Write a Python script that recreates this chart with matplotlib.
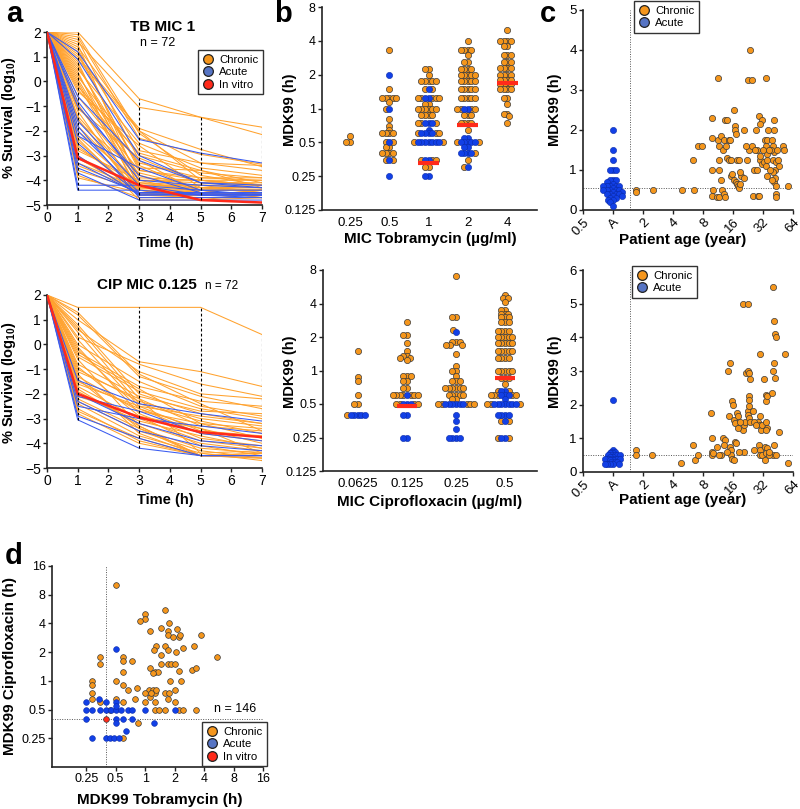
import numpy as np
import matplotlib
matplotlib.use('Agg')
import matplotlib.pyplot as plt
from matplotlib.lines import Line2D
from matplotlib.ticker import NullLocator

plt.rcParams['font.family'] = 'Liberation Sans'
plt.rcParams['mathtext.fontset'] = 'custom'
plt.rcParams['mathtext.rm'] = 'Liberation Sans'
plt.rcParams['mathtext.bf'] = 'Liberation Sans:bold'

ORANGE = '#F5961C'
BLUE = '#1240E6'
RED = '#FF2A1A'
LINE_ORANGE = '#FFA22E'
LINE_BLUE = '#3A5BF0'
LEG_BLUE = '#5674C4'

# ---------------- panel a: time-kill curves (log10 % survival) ----------------
times = [0, 1, 3, 5, 7]
start_survival = 2.0

# values at t = 1, 3, 5, 7 h
tb_chronic = [
    [2.0, -0.7, -1.45, -1.85], [1.6, -1.05, -1.45, -2.15], [1.0, -1.9, -2.75, -3.45],
    [0.9, -2.0, -3.3, -3.4], [1.8, -2.3, -2.95, -3.35], [0.5, -2.5, -3.5, -3.8],
    [1.3, -2.8, -3.3, -3.6], [0.2, -3.0, -3.7, -3.9], [-0.3, -3.3, -3.9, -4.0],
    [1.1, -3.5, -3.6, -4.1], [-0.6, -3.6, -4.0, -4.2], [0.7, -3.9, -4.0, -4.0],
    [-1.0, -4.0, -4.1, -4.1], [1.5, -4.1, -4.2, -4.3], [-1.4, -4.2, -4.2, -4.2],
    [0.0, -4.2, -4.3, -4.4], [-1.8, -4.3, -4.4, -4.4], [1.7, -3.2, -4.5, -4.5],
    [-2.2, -4.4, -4.5, -4.5], [-0.9, -4.5, -4.6, -4.6], [-2.6, -4.5, -4.5, -4.6],
    [0.4, -4.6, -4.6, -4.6], [-3.0, -4.6, -4.7, -4.7], [-1.2, -4.7, -4.7, -4.7],
    [-3.3, -4.3, -4.3, -4.3], [-2.0, -4.1, -4.4, -4.7], [1.9, -2.1, -3.8, -4.2],
    [0.6, -3.4, -4.4, -4.4], [-3.6, -4.4, -4.6, -4.6], [-2.8, -4.0, -4.5, -4.5],
    [-1.6, -3.7, -4.3, -4.5], [-0.1, -4.4, -4.8, -4.5], [-3.8, -4.7, -4.7, -4.7],
    [-2.4, -4.6, -4.4, -4.4], [1.4, -2.0, -4.0, -4.2], [0.8, -4.3, -4.5, -4.6],
    [-1.1, -3.1, -4.1, -4.2], [-3.1, -4.5, -4.6, -4.4], [-0.4, -2.6, -4.3, -4.3],
    [-2.7, -4.2, -4.2, -4.5], [-3.4, -4.4, -4.4, -4.4], [0.3, -3.8, -4.4, -4.7],
    [-1.5, -4.6, -4.6, -4.6], [-3.9, -4.5, -4.5, -4.5], [-2.3, -4.8, -4.8, -4.7],
    [1.2, -3.6, -3.9, -3.9], [-0.2, -2.9, -3.6, -4.3], [0.1, -4.0, -4.0, -4.2],
]
tb_acute = [
    [1.2, -2.35, -2.9, -3.3], [-0.6, -3.2, -4.1, -4.3], [-1.0, -3.8, -4.5, -4.5],
    [-1.6, -4.2, -4.6, -4.6], [-2.0, -4.5, -4.5, -4.5], [-2.5, -4.6, -4.55, -4.6],
    [-3.0, -4.6, -4.6, -4.7], [-3.7, -4.8, -4.8, -4.8], [-4.2, -4.2, -4.4, -4.4],
    [-4.4, -4.4, -4.6, -4.6], [-3.5, -4.5, -4.5, -4.5], [-0.8, -4.0, -4.2, -4.3],
    [0.9, -3.0, -4.1, -4.2], [-1.8, -4.7, -4.7, -4.7], [-3.3, -4.55, -4.55, -4.55],
    [-2.2, -3.5, -4.4, -4.6],
]
tb_invitro = [-3.1, -4.2, -4.8, -4.9]

cip_chronic = [
    [1.5, 1.5, 1.5, 0.4], [1.0, -0.7, -1.1, -1.7], [0.3, -0.8, -1.6, -2.1],
    [0.6, -1.1, -2.0, -2.2], [1.2, -1.3, -2.1, -2.6], [0.0, -1.5, -2.5, -2.9],
    [-0.3, -1.7, -2.3, -2.5], [-0.5, -1.9, -2.6, -3.0], [0.8, -2.0, -2.8, -3.2],
    [-0.8, -2.1, -2.7, -2.8], [-1.0, -2.3, -3.0, -3.3], [-1.1, -2.2, -3.3, -3.5],
    [0.2, -2.5, -3.5, -3.7], [-1.3, -2.7, -3.2, -3.4], [-1.5, -2.6, -3.6, -3.9],
    [-0.1, -2.8, -3.8, -4.1], [-1.7, -3.0, -3.9, -4.2], [-1.9, -3.2, -4.0, -4.3],
    [-0.6, -3.3, -4.5, -4.5], [-2.2, -3.4, -4.2, -4.4], [-2.3, -3.5, -4.3, -4.6],
    [-1.2, -3.6, -4.5, -4.5], [-2.4, -3.7, -4.4, -4.7], [0.5, -2.4, -3.1, -3.6],
    [-0.9, -2.9, -3.4, -4.0], [-2.0, -3.1, -3.7, -4.2], [-2.6, -3.9, -4.5, -4.5],
    [-1.6, -2.5, -2.9, -3.2], [-0.4, -1.8, -3.2, -3.8], [-2.8, -4.0, -4.5, -4.4],
    [1.3, -1.2, -2.4, -3.5], [-1.4, -3.4, -4.5, -4.6], [-2.1, -2.9, -4.1, -4.5],
    [0.7, -2.2, -4.4, -4.3], [-2.7, -3.8, -4.5, -4.6], [-1.8, -3.3, -4.5, -4.4],
    [-0.2, -2.6, -3.4, -4.4],
]
cip_acute = [
    [-1.45, -2.4, -2.8, -3.1], [-2.1, -2.7, -3.6, -3.9], [-2.5, -3.0, -3.3, -3.6],
    [-2.9, -3.8, -4.5, -4.5], [-3.05, -4.2, -4.5, -4.5], [-2.3, -3.5, -4.1, -4.3],
    [-2.0, -3.2, -3.9, -4.1],
]
cip_invitro = [-2.0, -2.95, -3.55, -3.75]

# ---------------- panel b: MDK99 by MIC ----------------
tob_mic = ['0.25', '0.5', '1', '2', '4']
tob_chronic = [
    [0.5, 0.5, 0.57],
    [3.3, 1.5, 1.25, 1.25, 1.25, 1.25, 1.25, 1.15, 1.0, 0.8, 0.7, 0.65, 0.6, 0.6, 0.6, 0.6,
     0.5, 0.5, 0.45, 0.45, 0.4, 0.4, 0.4, 0.4, 0.35, 0.35],
    [2.25, 2.25, 2.0, 1.75, 1.75, 1.75, 1.75, 1.75, 1.5, 1.5, 1.25, 1.25, 1.25, 1.25, 1.25,
     1.1, 1.1, 1.0, 1.0, 1.0, 1.0, 1.0, 1.0, 0.875, 0.875, 0.875, 0.875, 0.75, 0.75, 0.75,
     0.6, 0.6, 0.6, 0.5, 0.5, 0.35, 0.35, 0.35, 0.3, 0.3],
    [4.0, 3.3, 3.3, 3.3, 3.3, 3.0, 2.6, 2.6, 2.25, 2.25, 2.25, 2.25, 2.0, 2.0, 2.0, 2.0, 2.0,
     1.75, 1.75, 1.75, 1.75, 1.75, 1.5, 1.5, 1.5, 1.5, 1.5, 1.25, 1.25, 1.25, 1.25, 1.25,
     1.0, 1.0, 1.0, 1.0, 0.875, 0.875, 0.875, 0.75, 0.75, 0.75, 0.75, 0.65, 0.5, 0.5, 0.4,
     0.35, 0.3],
    [5.0, 4.0, 4.0, 4.0, 4.0, 3.6, 3.6, 3.0, 3.0, 3.0, 2.6, 2.6, 2.6, 2.3, 2.3, 2.3, 2.3,
     2.0, 2.0, 2.0, 2.0, 1.8, 1.8, 1.8, 1.8, 1.65, 1.65, 1.65, 1.65, 1.5, 1.5, 1.5, 1.5,
     1.25, 1.25, 1.1, 0.9, 0.9, 0.85, 0.75],
]
tob_acute = [
    [],
    [2.0, 1.0, 0.5, 0.35, 0.25],
    [1.5, 1.25, 1.25, 0.75, 0.75, 0.75, 0.65, 0.6, 0.6, 0.6, 0.6, 0.5, 0.5, 0.5, 0.5, 0.5,
     0.5, 0.5, 0.35, 0.35, 0.25, 0.25],
    [1.0, 1.0, 0.55, 0.55, 0.5, 0.5, 0.5, 0.5, 0.5, 0.45, 0.45, 0.4, 0.4, 0.4, 0.4, 0.3],
    [],
]
tob_invitro = [None, None, 0.33, 0.72, 1.7]

cip_mic = ['0.0625', '0.125', '0.25', '0.5']
cip_chronic_mdk = [
    [1.5, 0.88, 0.8, 0.6, 0.5, 0.5, 0.4],
    [2.75, 2.1, 2.1, 1.78, 1.5, 1.35, 1.35, 1.3, 1.3, 1.25, 0.9, 0.9, 0.9, 0.8, 0.8, 0.7,
     0.7, 0.6, 0.6, 0.6, 0.6, 0.6, 0.6, 0.6, 0.5, 0.5, 0.5, 0.5],
    [7.0, 3.0, 3.0, 2.3, 1.8, 1.8, 1.8, 1.7, 1.7, 1.7, 1.4, 1.1, 1.0, 1.0, 0.9, 0.8, 0.8,
     0.8, 0.7, 0.7, 0.7, 0.7, 0.7, 0.7, 0.6, 0.6, 0.6, 0.6, 0.6, 0.55, 0.55, 0.5, 0.5, 0.5,
     0.5, 0.5],
    [4.75, 4.5, 4.5, 4.1, 3.5, 3.5, 3.25, 3.25, 3.25, 3.0, 3.0, 3.0, 2.75, 2.75, 2.75, 2.25,
     2.25, 2.25, 2.25, 2.0, 2.0, 2.0, 2.0, 2.0, 1.75, 1.75, 1.75, 1.75, 1.75, 1.5, 1.5, 1.5,
     1.5, 1.5, 1.3, 1.3, 1.3, 1.3, 1.0, 1.0, 1.0, 1.0, 1.0, 0.85, 0.85, 0.85, 0.75, 0.65,
     0.65, 0.6, 0.6, 0.6, 0.6, 0.6, 0.5, 0.5, 0.5, 0.35, 0.35, 0.25, 0.25],
]
cip_acute_mdk = [
    [0.4, 0.4, 0.4, 0.4, 0.4],
    [0.6, 0.5, 0.5, 0.5, 0.4, 0.4, 0.25, 0.25],
    [2.2, 0.5, 0.5, 0.5, 0.5, 0.5, 0.5, 0.4, 0.35, 0.3, 0.25, 0.25, 0.25, 0.25],
    [0.65, 0.65, 0.6, 0.6, 0.6, 0.55, 0.5, 0.5, 0.5, 0.5, 0.5, 0.5, 0.5, 0.4, 0.4, 0.4, 0.4,
     0.35, 0.25, 0.25],
]
cip_invitro_mdk = [None, 0.48, None, 0.85]

# ---------------- panel c: MDK99 vs patient age ----------------
age_threshold = 1.47
c_tob_age = [1.7, 1.7, 2.5, 4.9, 6.3, 6.5, 7.2, 7.9, 9.9, 9.8, 9.8, 10.0, 9.9, 11.3, 11.3,
             12.2, 11.7, 11.5, 11.6, 12.0, 11.0, 11.6, 12.5, 12.8, 13.6, 13.1, 13.4, 14.0,
             14.0, 14.5, 15.2, 14.6, 15.0, 13.0, 13.3, 15.4, 15.8, 16.5, 16.6, 16.9, 17.0,
             16.3, 17.0, 17.7, 17.5, 18.2, 18.0, 18.4, 18.6, 19.4, 19.0, 20.4, 23.5, 22.6,
             24.6, 23.2, 24.6, 25.3, 25.8, 27.6, 27.6, 29.6, 29.6, 29.4, 31.0, 30.2, 31.5,
             32.4, 34.6, 33.5, 35.0, 34.6, 35.0, 35.5, 34.6, 35.0, 28.3, 29.4, 39.7, 40.5,
             41.2, 41.6, 41.6, 40.7, 42.0, 40.0, 41.0, 42.5, 43.5, 43.5, 43.5, 44.0, 43.0,
             45.0, 46.0, 38.5, 38.0, 39.0, 50.6, 51.5, 57.0, 20.8, 21.5, 22.0, 26.5, 27.0,
             32.0, 36.0, 37.0]
c_tob_mdk = [0.5, 0.45, 0.5, 0.5, 1.25, 0.5, 1.6, 1.6, 2.3, 1.8, 1.0, 0.5, 0.35, 3.3, 1.75,
             1.85, 1.6, 1.25, 1.0, 0.75, 0.33, 0.33, 0.5, 1.5, 1.6, 1.75, 2.25, 2.25, 1.3,
             1.25, 1.25, 1.75, 1.75, 0.4, 0.33, 0.85, 0.9, 2.5, 2.1, 2.0, 1.9, 0.75, 0.7,
             0.65, 1.25, 1.25, 0.6, 0.55, 0.65, 0.85, 0.95, 2.0, 4.0, 3.25, 3.25, 1.5, 1.6,
             0.35, 1.0, 1.0, 1.5, 1.25, 1.35, 2.35, 2.25, 2.15, 1.15, 1.2, 3.3, 1.75, 1.75,
             1.6, 1.4, 1.25, 1.1, 0.85, 0.35, 0.35, 1.75, 1.6, 1.45, 2.25, 2.0, 1.25, 1.0,
             0.95, 0.7, 0.8, 0.6, 0.4, 0.33, 1.5, 1.2, 1.25, 1.1, 1.5, 1.0, 0.75, 1.6, 1.5,
             0.6, 0.8, 1.6, 1.25, 1.5, 2.0, 1.5, 2.0, 1.5]
c_tob_acute = [2.0, 1.5, 1.25, 1.0, 1.0, 1.0, 0.75, 0.75, 0.75, 0.7, 0.65, 0.6, 0.6, 0.6,
               0.6, 0.6, 0.55, 0.5, 0.5, 0.5, 0.5, 0.5, 0.45, 0.45, 0.4, 0.4, 0.4, 0.4,
               0.35, 0.35, 0.3, 0.3, 0.25, 0.25, 0.2, 0.1]
c_tob_cut = 0.56

c_cip_age = [1.7, 1.7, 2.45, 4.85, 6.35, 6.7, 7.2, 9.7, 9.8, 9.8, 9.9, 11.0, 12.0, 11.6,
             12.8, 13.3, 13.1, 14.3, 14.6, 15.0, 14.8, 15.2, 15.2, 15.7, 16.2, 15.6, 16.1,
             16.4, 16.9, 16.9, 17.3, 17.5, 17.8, 20.1, 22.4, 20.1, 20.4, 21.3, 20.8, 21.5,
             22.6, 23.2, 22.6, 22.8, 23.2, 23.5, 23.2, 23.2, 23.2, 23.5, 29.6, 28.3, 29.6,
             30.2, 30.6, 31.3, 29.2, 29.6, 30.2, 31.0, 32.4, 34.0, 34.0, 34.8, 34.0, 35.0,
             34.6, 33.5, 35.0, 34.6, 33.5, 39.4, 40.6, 41.0, 42.3, 43.0, 40.2, 41.0, 42.0,
             41.6, 40.6, 43.0, 46.3, 53.6, 56.5, 18.0, 19.0, 25.5, 26.0, 27.0, 18.5, 26.0,
             36.5, 37.0, 13.9, 10.0]
c_cip_mdk = [0.65, 0.5, 0.5, 0.27, 0.8, 0.35, 0.5, 1.75, 1.0, 0.6, 0.5, 0.75, 0.5, 0.5,
             1.0, 0.95, 0.8, 3.0, 1.65, 3.25, 0.75, 0.65, 0.5, 0.4, 0.35, 2.1, 2.0, 1.55,
             1.45, 0.9, 0.87, 1.75, 1.65, 5.0, 5.0, 1.25, 1.4, 1.5, 0.6, 2.95, 3.0, 2.95,
             1.8, 1.7, 1.6, 1.5, 2.25, 2.15, 1.95, 2.75, 3.5, 1.5, 1.65, 1.4, 1.25, 1.4, 0.8,
             0.65, 0.5, 0.5, 2.75, 2.3, 2.1, 2.25, 1.5, 1.3, 1.25, 0.75, 0.7, 0.55, 0.35,
             2.35, 5.5, 4.5, 4.1, 4.0, 3.0, 3.25, 2.8, 0.8, 0.5, 0.5, 1.2, 3.5, 0.27, 1.3,
             1.5, 1.8, 1.5, 1.4, 0.6, 0.65, 0.5, 0.6, 0.6, 0.55]
c_cip_acute = [2.15, 0.65, 0.6, 0.6, 0.55, 0.55, 0.5, 0.5, 0.5, 0.5, 0.5, 0.45, 0.45, 0.4,
               0.4, 0.4, 0.4, 0.4, 0.4, 0.35, 0.35, 0.3, 0.3, 0.3, 0.25, 0.25, 0.25, 0.25,
               0.25]
c_cip_cut = 0.5

# ---------------- panel d: MDK99 tobramycin vs ciprofloxacin ----------------
d_chronic_tob = [0.5, 1.59, 1.0, 1.0, 0.88, 1.74, 1.47, 1.7, 1.7, 2.13, 1.95, 2.2, 2.25, 1.13,
                 3.7, 1.3, 1.22, 1.59, 1.7, 2.07, 2.45, 3.17, 5.4, 1.47, 1.47, 1.7, 1.85, 2.0,
                 1.13, 1.25, 1.36, 1.2, 2.2, 3.0, 3.3, 1.8, 2.3, 1.6, 1.74, 2.0, 1.7, 2.0,
                 1.1, 1.2, 1.26, 1.0, 1.12, 1.26, 1.0, 0.83, 0.78, 0.84, 0.6, 0.6, 0.6, 0.5,
                 0.6, 0.67, 0.5, 0.6, 0.73, 0.35, 0.35, 0.29, 0.29, 0.29, 0.29, 0.35, 0.44,
                 0.6, 1.26, 1.4, 1.6, 2.2, 2.45, 3.3, 1.3, 1.15]
d_chronic_cip = [10.1, 5.5, 5.0, 4.5, 4.2, 4.0, 3.55, 3.3, 3.0, 3.5, 2.85, 2.85, 3.0, 3.3,
                 3.0, 2.3, 2.1, 2.3, 2.1, 2.0, 2.2, 2.3, 1.77, 1.85, 1.5, 1.5, 1.5, 1.5,
                 1.35, 1.25, 1.25, 1.2, 1.27, 1.3, 1.35, 1.0, 1.0, 0.75, 0.75, 0.8, 0.65, 0.6,
                 0.8, 0.8, 0.75, 0.75, 0.68, 0.6, 0.6, 0.85, 0.65, 0.36, 1.77, 1.6, 1.25, 1.0,
                 0.9, 0.8, 0.65, 0.6, 1.6, 1.77, 1.5, 1.0, 0.9, 0.75, 0.65, 0.6, 0.5, 0.25,
                 0.5, 0.5, 0.5, 0.5, 0.5, 0.5, 0.8, 0.75]
d_acute_tob = [0.5, 0.25, 0.34, 0.4, 0.25, 0.29, 0.35, 0.4, 0.45, 0.5, 0.57, 0.67, 0.74, 1.0,
               2.0, 0.5, 0.5, 0.25, 0.5, 0.6, 0.74, 0.5, 0.64, 1.24, 0.29, 0.4, 0.44, 0.48,
               0.54]
d_acute_cip = [2.15, 0.6, 0.65, 0.6, 0.5, 0.5, 0.5, 0.5, 0.5, 0.5, 0.5, 0.5, 0.5, 0.5, 0.5,
               0.6, 0.55, 0.4, 0.4, 0.4, 0.4, 0.36, 0.3, 0.36, 0.25, 0.25, 0.25, 0.25, 0.25]
d_invitro_tob = [0.4]
d_invitro_cip = [0.4]
d_cut = 0.4

W, H = 800, 809
fig = plt.figure(figsize=(W / 100, H / 100), dpi=100)


def add_ax(left, top, right, bottom):
    return fig.add_axes([left / W, 1 - bottom / H, (right - left) / W, (bottom - top) / H])


def ftext(x, y, s, **kw):
    fig.text(x / W, 1 - y / H, s, **kw)


def style(ax):
    for sp in ['top', 'right']:
        ax.spines[sp].set_visible(False)
    for sp in ['left', 'bottom']:
        ax.spines[sp].set_linewidth(1.2)
        ax.spines[sp].set_color('#222222')
    ax.tick_params(length=3, width=1, labelsize=8.5, pad=1.5, colors='#222222',
                   labelcolor='black')


def swarm(yp, d):
    # beeswarm offsets in pixel units
    xs = np.zeros(len(yp))
    for i in range(len(yp)):
        bad = []
        for j in range(i):
            dy = yp[i] - yp[j]
            if abs(dy) < d:
                w = np.sqrt(d * d - dy * dy)
                bad.append((xs[j] - w, xs[j] + w))
        cands = sorted([0.0] + [b for iv in bad for b in iv], key=abs)
        for c in cands:
            if all(not (lo + 1e-6 < c < hi - 1e-6) for lo, hi in bad):
                xs[i] = c
                break
    return xs


def legend(ax, x, y, labels, colors, size=8.2):
    handles = [Line2D([], [], ls='', marker='o', ms=7, mfc=c, mec='#222222', mew=0.9)
               for c in colors]
    lg = ax.legend(handles, labels, loc='upper left', bbox_to_anchor=(x / W, 1 - y / H),
                   bbox_transform=fig.transFigure, borderaxespad=0, fontsize=size,
                   frameon=True, fancybox=False, framealpha=1, edgecolor='#333333',
                   handlelength=1.0, handletextpad=0.45, borderpad=0.4,
                   labelspacing=0.22)
    lg.get_frame().set_linewidth(1.0)


# ---------- panel a ----------
def survival_panel(ax, chronic, acute, invitro):
    style(ax)
    every = []
    for row in chronic:
        ax.plot(times, [start_survival] + row, color=LINE_ORANGE, lw=0.75, zorder=2)
        every.append(row)
    for row in acute:
        ax.plot(times, [start_survival] + row, color=LINE_BLUE, lw=0.75, zorder=3)
        every.append(row)
    ax.plot(times, [start_survival] + invitro, color=RED, lw=1.8, zorder=4)
    every.append(invitro)
    arr = np.array(every)
    for k, t in enumerate(times[1:]):
        ax.vlines(t, arr[:, k].min(), arr[:, k].max(), color='black', lw=0.8,
                  linestyles=(0, (2.5, 2)), zorder=5)
    ax.set_xlim(0, 7)
    ax.set_ylim(-5, 2)
    ax.set_xticks(range(8))
    ax.set_yticks(range(-5, 3))
    ax.tick_params(labelsize=10)


ax = add_ax(47, 32, 262, 205)
survival_panel(ax, tb_chronic, tb_acute, tb_invitro)
legend(ax, 198, 50, ['Chronic', 'Acute', 'In vitro'], [ORANGE, LEG_BLUE, RED])
ftext(163, 27, 'TB MIC 1', ha='center', va='center', fontsize=11, fontweight='bold')
ftext(158, 43, 'n = 72', ha='center', va='center', fontsize=9)

ax = add_ax(47, 295, 262, 468)
survival_panel(ax, cip_chronic, cip_acute, cip_invitro)
ftext(147, 285, 'CIP MIC 0.125', ha='center', va='center', fontsize=11, fontweight='bold')
ftext(222, 286, 'n = 72', ha='center', va='center', fontsize=8.5)

for yc, yl in [(118, 243), (383, 500)]:
    ftext(9, yc, r'% Survival (log$_{\mathbf{10}}$)', rotation=90, ha='center', va='center',
          fontsize=10.5, fontweight='bold')
    ftext(165, yl, 'Time (h)', ha='center', va='center', fontsize=10.5, fontweight='bold')


# ---------- panel b ----------
def mic_panel(ax, labels, chronic, acute, invitro, ppo, ppc, half):
    style(ax)
    ax.set_yscale('log', base=2)
    d = 3.6
    for i in range(len(labels)):
        vals = list(acute[i]) + list(chronic[i])
        if not vals:
            continue
        off = swarm(np.log2(vals) * ppo, d)
        x = i + off / ppc
        na = len(acute[i])
        ax.scatter(x[na:], vals[na:], s=20, c=ORANGE, edgecolors='#3a3a3a',
                   linewidths=0.5, zorder=3)
        ax.scatter(x[:na], vals[:na], s=20, c=BLUE, edgecolors='#0a2aa8',
                   linewidths=0.4, zorder=4)
        if invitro[i] is not None:
            ax.hlines(invitro[i], i - half, i + half, color=RED, lw=3, zorder=5)
    ax.set_ylim(0.125, 8)
    ax.set_yticks([0.125, 0.25, 0.5, 1, 2, 4, 8])
    ax.set_yticklabels(['0.125', '0.25', '0.5', '1', '2', '4', '8'])
    ax.yaxis.set_minor_locator(NullLocator())
    ax.set_xticks(range(len(labels)))
    ax.set_xticklabels(labels)
    ax.tick_params(axis='x', length=0, pad=5, labelsize=9.5)
    ax.tick_params(axis='y', labelsize=9)


ax = add_ax(322, 7, 537, 210)
mic_panel(ax, tob_mic, tob_chronic, tob_acute, tob_invitro, 33.8, 39.3, 0.27)
ax.set_xlim(-0.71, 4.76)
ftext(430, 239, 'MIC Tobramycin (µg/ml)', ha='center', va='center', fontsize=11,
      fontweight='bold')
ftext(290, 110, 'MDK99 (h)', rotation=90, ha='center', va='center', fontsize=10.5,
      fontweight='bold')

ax = add_ax(323, 270, 537, 471)
mic_panel(ax, cip_mic, cip_chronic_mdk, cip_acute_mdk, cip_invitro_mdk, 33.5, 49, 0.21)
ax.set_xlim(-0.71, 3.65)
ftext(430, 502, 'MIC Ciprofloxacin (µg/ml)', ha='center', va='center', fontsize=11,
      fontweight='bold')
ftext(290, 372, 'MDK99 (h)', rotation=90, ha='center', va='center', fontsize=10.5,
      fontweight='bold')


# ---------- panel c ----------
def age_panel(ax, ages, mdk, acute, cut, ymax, ppu, dot):
    style(ax)
    ax.set_xscale('log', base=2)
    off = swarm(np.array(acute) * ppu, dot)
    ax.scatter(2.0 ** (off / 30.0), acute, s=20, c=BLUE, edgecolors='#0a2aa8',
               linewidths=0.4, zorder=4)
    ax.scatter(ages, mdk, s=20, c=ORANGE, edgecolors='#3a3a3a', linewidths=0.5, zorder=3)
    ax.axvline(age_threshold, color='#555555', lw=0.7, ls=(0, (1, 1.5)), zorder=1)
    ax.axhline(cut, color='#555555', lw=0.7, ls=(0, (1, 1.5)), zorder=1)
    ax.set_xlim(0.5, 64)
    ax.set_ylim(0, ymax)
    ax.set_yticks(range(ymax + 1))
    ticks = [0.5, 1, 2, 4, 8, 16, 32, 64]
    ax.set_xticks(ticks)
    ax.set_xticklabels(['0.5', 'A', '2', '4', '8', '16', '32', '64'], rotation=45,
                       ha='right', rotation_mode='anchor')
    ax.xaxis.set_minor_locator(NullLocator())
    ax.tick_params(labelsize=9.5)


ax = add_ax(583, 10, 793, 210)
age_panel(ax, c_tob_age, c_tob_mdk, c_tob_acute, c_tob_cut, 5, 40.0, 3.4)
legend(ax, 634, 1, ['Chronic', 'Acute'], [ORANGE, LEG_BLUE])
ftext(683, 240, 'Patient age (year)', ha='center', va='center', fontsize=11,
      fontweight='bold')
ftext(555, 110, 'MDK99 (h)', rotation=90, ha='center', va='center', fontsize=10.5,
      fontweight='bold')

ax = add_ax(583, 270, 793, 472)
age_panel(ax, c_cip_age, c_cip_mdk, c_cip_acute, c_cip_cut, 6, 33.6, 2.4)
legend(ax, 632, 266, ['Chronic', 'Acute'], [ORANGE, LEG_BLUE])
ftext(683, 500, 'Patient age (year)', ha='center', va='center', fontsize=11,
      fontweight='bold')
ftext(555, 372, 'MDK99 (h)', rotation=90, ha='center', va='center', fontsize=10.5,
      fontweight='bold')

# ---------- panel d ----------
ax = add_ax(52, 566, 263, 767)
style(ax)
ax.set_xscale('log', base=2)
ax.set_yscale('log', base=2)
ax.scatter(d_chronic_tob, d_chronic_cip, s=17, c=ORANGE, edgecolors='#3a3a3a',
           linewidths=0.5, zorder=3)
ax.scatter(d_acute_tob, d_acute_cip, s=17, c=BLUE, edgecolors='#0a2aa8', linewidths=0.4,
           zorder=4)
ax.scatter(d_invitro_tob, d_invitro_cip, s=17, c=RED, edgecolors='#3a3a3a',
           linewidths=0.5, zorder=5)
ax.axvline(d_cut, color='#555555', lw=0.7, ls=(0, (1, 1.5)), zorder=1)
ax.axhline(d_cut, color='#555555', lw=0.7, ls=(0, (1, 1.5)), zorder=1)
ax.set_xlim(0.112, 16)
ax.set_ylim(0.125, 16)
ax.set_xticks([0.25, 0.5, 1, 2, 4, 8, 16])
ax.set_xticklabels(['0.25', '0.5', '1', '2', '4', '8', '16'])
ax.set_yticks([0.25, 0.5, 1, 2, 4, 8, 16])
ax.set_yticklabels(['0.25', '0.5', '1', '2', '4', '8', '16'])
ax.xaxis.set_minor_locator(NullLocator())
ax.yaxis.set_minor_locator(NullLocator())
ax.tick_params(labelsize=9)
legend(ax, 202, 722, ['Chronic', 'Acute', 'In vitro'], [ORANGE, LEG_BLUE, RED])
ftext(235, 709, 'n = 146', ha='center', va='center', fontsize=9)
ftext(160, 800, 'MDK99 Tobramycin (h)', ha='center', va='center', fontsize=11,
      fontweight='bold')
ftext(10, 666, 'MDK99 Ciprofloxacin (h)', rotation=90, ha='center', va='center',
      fontsize=11, fontweight='bold')

# panel letters
for lx, ly, s in [(14, 14, 'a'), (283, 14, 'b'), (548, 14, 'c'), (14, 556, 'd')]:
    ftext(lx, ly, s, ha='center', va='center', fontsize=21, fontweight='bold')

fig.savefig('out.png', dpi=100)
